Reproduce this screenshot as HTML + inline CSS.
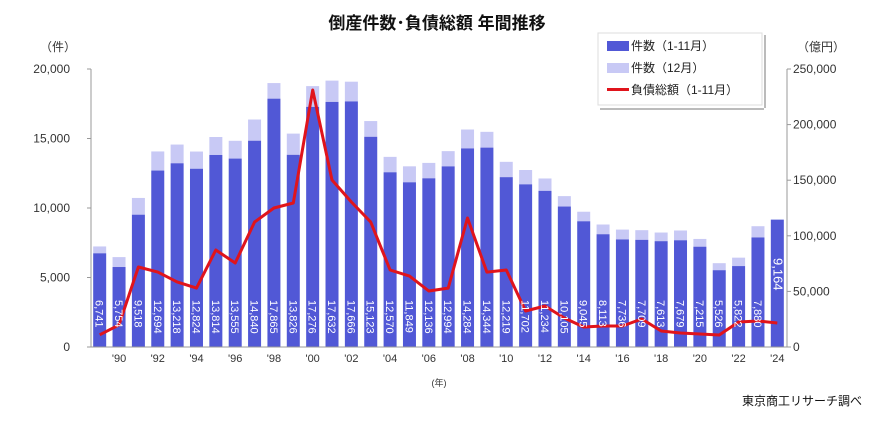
<!DOCTYPE html>
<html><head><meta charset="utf-8"><style>
body{margin:0;background:#fff;}
svg text{font-family:"Liberation Sans","Noto Sans CJK JP",sans-serif;}
</style></head><body>
<svg id="chart" width="886" height="418" xmlns="http://www.w3.org/2000/svg">
<text x="437" y="29" text-anchor="middle" font-size="17" font-weight="bold" fill="#111">倒産件数･負債総額 年間推移</text>
<text x="58" y="51" text-anchor="middle" font-size="12" fill="#333">（件）</text>
<text x="821" y="51" text-anchor="middle" font-size="12" fill="#333">（億円）</text>
<text x="439" y="386" text-anchor="middle" font-size="9" fill="#333">(年)</text>
<text x="862" y="405" text-anchor="end" font-size="12" fill="#111">東京商工リサーチ調べ</text>
<g id="plot"></g>
<g>
<rect x="598" y="33" width="164" height="72" fill="#fff" stroke="#ddd"/>
<rect x="600" y="108" width="164" height="2" fill="#bbb"/>
<rect x="764" y="35" width="2" height="73" fill="#bbb"/>
<rect x="607" y="41" width="22" height="10" fill="#5158d6"/>
<text x="631" y="50" font-size="12" fill="#222">件数（1-11月）</text>
<rect x="607" y="63" width="22" height="10" fill="#c8c9f5"/>
<text x="631" y="72" font-size="12" fill="#222">件数（12月）</text>
<rect x="607" y="88" width="22" height="3" fill="#e0141c"/>
<text x="631" y="94" font-size="12" fill="#222">負債総額（1-11月）</text>
</g>
</svg>
<script>
const years=[1989,1990,1991,1992,1993,1994,1995,1996,1997,1998,1999,2000,2001,2002,2003,2004,2005,2006,2007,2008,2009,2010,2011,2012,2013,2014,2015,2016,2017,2018,2019,2020,2021,2022,2023,2024];
const countJanNov=[6741,5754,9518,12694,13218,12824,13814,13555,14840,17865,13826,17276,17632,17666,15123,12570,11849,12136,12994,14284,14344,12219,11702,11234,10105,9045,8113,7736,7709,7613,7679,7215,5526,5822,7880,9164];
const countFullYear=[7234,6468,10723,14069,14564,14061,15108,14834,16365,18988,15352,18769,19164,19087,16255,13679,12998,13245,14091,15646,15480,13321,12734,12124,10855,9731,8812,8446,8405,8235,8383,7773,6030,6428,8690,9164];
const debtJanNov=[11000,19900,71900,67400,58500,53000,87200,75500,112400,125000,129500,231100,150200,130400,112400,69200,63800,50400,53000,116000,67400,69200,32400,36900,26100,18000,18900,18900,25200,14400,12600,11700,10800,22500,23400,21600];
const leftTicks=[0,5000,10000,15000,20000];
const rightTicks=[0,50000,100000,150000,200000,250000];

const NS="http://www.w3.org/2000/svg";
const g=document.getElementById('plot');
const X0=90,X1=787,Y0=347,Y1=69;
const slot=(X1-X0)/years.length;
const xC=i=>X0+slot*(i+0.5);
const yL=v=>Y0-(v/20000)*(Y0-Y1);
const yR=v=>Y0-(v/250000)*(Y0-Y1);
const fmt=v=>v.toLocaleString('en-US');
function mk(t,a){const e=document.createElementNS(NS,t);for(const k in a)e.setAttribute(k,a[k]);g.appendChild(e);return e;}

leftTicks.forEach(v=>{
  const t=mk('text',{x:70,y:yL(v)+4,'text-anchor':'end','font-size':12,fill:'#333'});
  t.textContent=fmt(v);
  
  
  mk('line',{x1:87,x2:91,y1:yL(v),y2:yL(v),stroke:'#999'});
});
rightTicks.forEach(v=>{
  const t=mk('text',{x:793,y:yR(v)+4,'font-size':12,fill:'#333'});
  t.textContent=fmt(v);
  
  
  mk('line',{x1:787,x2:791,y1:yR(v),y2:yR(v),stroke:'#999'});
});
const axl=mk('line',{x1:91,x2:91,y1:Y1,y2:Y0,stroke:'#999'});


const axr=mk('line',{x1:787,x2:787,y1:Y1,y2:Y0,stroke:'#999'});



years.forEach((y,i)=>{
  const bw=13,x=xC(i)-bw/2;
  const d=mk('rect',{x:x,y:yL(countFullYear[i]),width:bw,height:yL(countJanNov[i])-yL(countFullYear[i]),fill:'#c8c9f5'});
  
  
  const b=mk('rect',{x:x,y:yL(countJanNov[i]),width:bw,height:Y0-yL(countJanNov[i]),fill:'#5158d6'});
  
  
  if(y%2===0){
    const t=mk('text',{x:xC(i),y:362,'text-anchor':'middle','font-size':11,fill:'#333'});
    t.textContent="'"+String(y).slice(2);
    
    
  }
});
const base=mk('line',{x1:X0,x2:X1,y1:Y0,y2:Y0,stroke:'#999'});



const pts=debtJanNov.map((v,i)=>xC(i).toFixed(1)+','+yR(v).toFixed(1)).join(' ');
const ln=mk('polyline',{points:pts,fill:'none',stroke:'#e0141c','stroke-width':3,'stroke-linejoin':'round'});



years.forEach((y,i)=>{
  const last=i===years.length-1;
  const cx=xC(i)+4, ty=last?296:(Y0-3);
  const t=mk('text',{x:cx,y:ty,'text-anchor':'end','font-size':last?13:11,fill:'#fff',transform:'rotate(90 '+cx+' '+ty+')'});
  t.setAttribute('transform','rotate(90 '+(xC(i))+' '+ty+')');
  t.setAttribute('x',xC(i)-(last?38:44));
  t.setAttribute('y',ty+4);
  t.setAttribute('text-anchor','start');
  t.textContent=fmt(countJanNov[i]);
  
  
});
</script>
</body></html>
